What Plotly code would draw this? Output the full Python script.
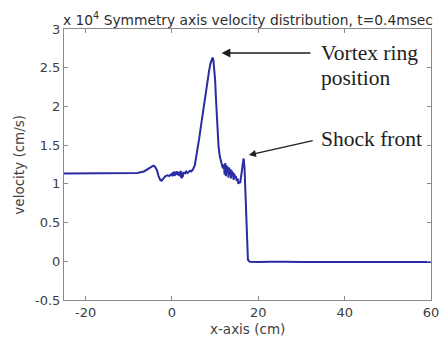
import plotly.graph_objects as go

# Axial position along the symmetry axis (cm)
x_cm = [
    -25, -15, -10, -8, -6.5, -5.5, -4.8, -4.3, -3.9, -3.5, -3.1, -2.7, -2.4, -2.0,
    -1.5, -1.0, -0.6, -0.3, 0.0, 0.2, 0.4, 0.6, 0.8, 1.0, 1.2, 1.4, 1.6, 1.8,
    2.0, 2.1, 2.2, 2.3, 2.4, 2.5, 2.6, 2.8, 3.0, 3.3, 3.6, 3.9, 4.2, 4.5, 4.9,
    5.3, 5.7, 6.0, 6.3, 6.6, 7.0, 7.4, 7.8, 8.2, 8.6, 8.9, 9.2, 9.4, 9.6, 9.8,
    10.0, 10.2, 10.5, 10.8, 11.1, 11.4, 11.7, 11.9, 12.05, 12.2, 12.35, 12.5,
    12.65, 12.8, 12.95, 13.1, 13.25, 13.4, 13.55, 13.7, 13.85, 14.0, 14.15,
    14.3, 14.45, 14.6, 14.8, 15.0, 15.2, 15.4, 15.6, 15.8, 16.0, 16.2, 16.4,
    16.6, 16.8, 17.0, 17.2, 17.4, 17.6, 18.0, 20, 23, 25, 26, 30, 40, 50, 60,
]

# Axial velocity (x 10^4 cm/s)
velocity = [
    1.135, 1.135, 1.135, 1.14, 1.16, 1.19, 1.21, 1.235, 1.22, 1.18, 1.10, 1.05,
    1.04, 1.07, 1.10, 1.11, 1.10, 1.12, 1.11, 1.15, 1.10, 1.16, 1.12, 1.13,
    1.16, 1.11, 1.15, 1.10, 1.17, 1.08, 1.16, 1.07, 1.14, 1.09, 1.13, 1.15,
    1.13, 1.16, 1.14, 1.15, 1.17, 1.16, 1.19, 1.24, 1.36, 1.48, 1.58, 1.70,
    1.86, 2.03, 2.19, 2.33, 2.46, 2.55, 2.60, 2.63, 2.60, 2.50, 2.34, 2.10,
    1.72, 1.48, 1.35, 1.27, 1.22, 1.20, 1.25, 1.12, 1.27, 1.10, 1.24, 1.14,
    1.22, 1.08, 1.21, 1.12, 1.19, 1.07, 1.17, 1.11, 1.15, 1.05, 1.13, 1.08,
    1.10, 1.04, 1.07, 1.00, 1.03, 1.01, 1.09, 1.20, 1.29, 1.33, 1.22, 0.95,
    0.55, 0.18, 0.02, -0.005, -0.01, -0.005, -0.01, -0.005, -0.01, -0.01,
    -0.01, -0.01,
]

y_ticks = [-0.5, 0, 0.5, 1, 1.5, 2, 2.5, 3]
y_tick_text = ["-0.5", "0", "0.5", "1", "1.5", "2", "2.5", "3"]
x_ticks = [-20, 0, 20, 40, 60]
x_tick_text = ["-20", "0", "20", "40", "60"]

axis_font = dict(family="DejaVu Sans, Arial, sans-serif", size=13, color="#3e3e3e")
label_font = dict(family="DejaVu Sans, Arial, sans-serif", size=13.5, color="#3e3e3e")
title_font = dict(family="DejaVu Sans, Arial, sans-serif", size=13.8, color="#2e2e2e")
note_font = dict(family="Liberation Serif, Times New Roman, serif", size=21.5, color="#1e1e1e")
axis_line = "#8a8a8a"
arrow_color = "#1e1e1e"

fig = go.Figure()
fig.add_trace(go.Scatter(
    x=x_cm, y=velocity, mode="lines",
    line=dict(color="#2b2ba3", width=2),
    showlegend=False, hoverinfo="skip",
))

fig.update_xaxes(
    range=[-25, 60], tickvals=x_ticks, ticktext=x_tick_text, ticks="inside",
    ticklen=4, tickcolor=axis_line, showline=True, linecolor=axis_line,
    linewidth=1, mirror="ticks", showgrid=False, zeroline=False,
    tickfont=axis_font, ticklabeloverflow="allow",
)
fig.update_yaxes(
    range=[-0.5, 3], tickvals=y_ticks, ticktext=y_tick_text, ticks="inside",
    ticklen=4, tickcolor=axis_line, showline=True, linecolor=axis_line,
    linewidth=1, mirror="ticks", showgrid=False, zeroline=False,
    tickfont=axis_font, ticklabeloverflow="allow",
)

annotations = [
    # title with exponent marker
    dict(text="x 10<sup>4</sup> Symmetry axis velocity distribution, t=0.4msec",
         xref="paper", yref="paper", x=-0.006, y=1.0, xanchor="left",
         yanchor="bottom", yshift=0, borderpad=0, showarrow=False,
         font=title_font),
    dict(text="velocity (cm/s)", xref="paper", yref="paper", x=-0.125, y=0.5,
         xanchor="center", yanchor="middle", textangle=-90, showarrow=False,
         font=label_font),
    dict(text="x-axis (cm)", xref="paper", yref="paper", x=0.5, y=-0.07,
         xanchor="center", yanchor="top", showarrow=False, font=label_font),
    # labelled features, arrows pointing at the curve
    dict(text="Vortex ring", x=11.5, y=2.69, ax=34.4, ay=2.69, xref="x",
         yref="y", axref="x", ayref="y", xanchor="left", yanchor="middle",
         borderpad=0, showarrow=True, arrowhead=2, arrowsize=1.1,
         arrowwidth=1.6, arrowcolor=arrow_color, standoff=0,
         startstandoff=10, font=note_font),
    dict(text="position", x=34.4, y=2.37, xref="x", yref="y",
         xanchor="left", yanchor="middle", borderpad=0, showarrow=False,
         font=note_font),
    dict(text="Shock front", x=17.8, y=1.373, ax=34.4, ay=1.58, xref="x",
         yref="y", axref="x", ayref="y", xanchor="left", yanchor="middle",
         borderpad=0, showarrow=True, arrowhead=2, arrowsize=1.1,
         arrowwidth=1.3, arrowcolor=arrow_color, standoff=0,
         startstandoff=8, font=note_font),
]

fig.update_layout(
    width=447, height=337,
    margin=dict(l=64, r=8, t=29, b=37),
    paper_bgcolor="white", plot_bgcolor="white",
    annotations=annotations,
)

fig.write_html("out.html")
